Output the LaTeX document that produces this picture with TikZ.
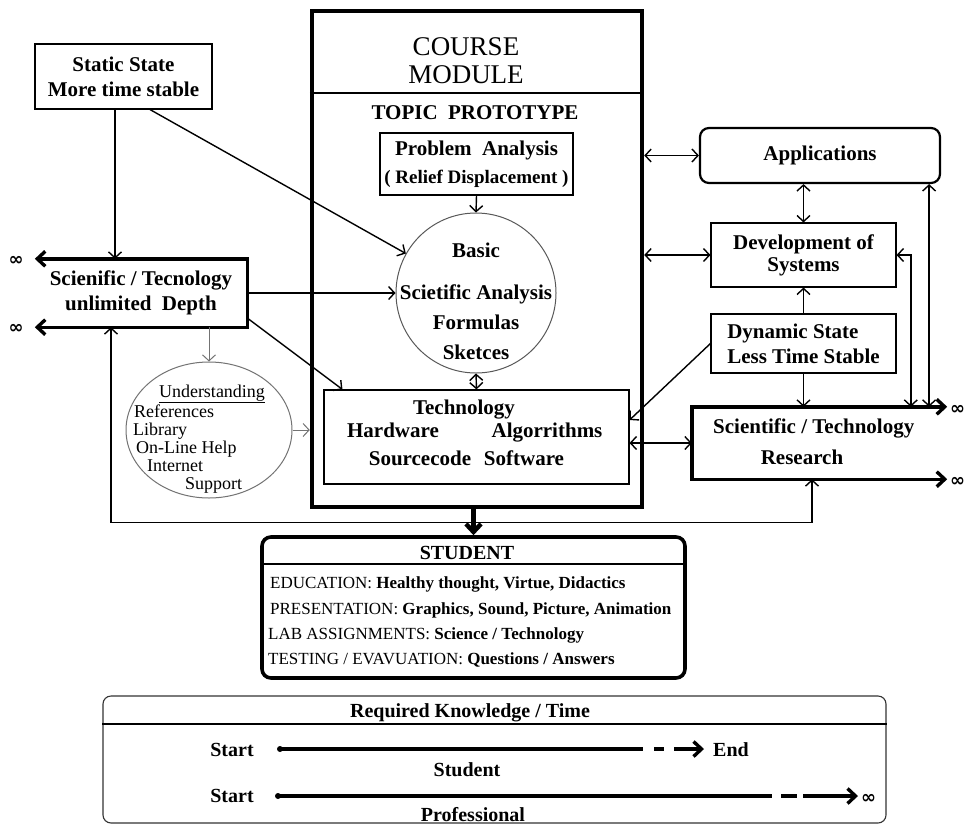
\documentclass[tikz,border=0pt]{standalone}
\usepackage{fontspec}
\setmainfont{Liberation Serif}
\newfontfamily\symfont{DejaVu Sans}
\usetikzlibrary{arrows.meta,calc,shapes.geometric}
\newcommand\myB{\fontsize{21}{25}\selectfont\bfseries}
\newcommand\myBd{\fontsize{21}{22}\selectfont\bfseries}
\newcommand\myBc{\fontsize{21}{30}\selectfont\bfseries}
\newcommand\myBb{\fontsize{20}{24}\selectfont\bfseries}
\newcommand\myR{\fontsize{18}{21}\selectfont}
\newcommand\myS{\fontsize{17}{20}\selectfont}
\newcommand\myC{\fontsize{27}{28}\selectfont}
\newcommand\myInf{{\symfont\bfseries ∞}}
\tikzset{
 vtip/.tip={Straight Barb[length=6pt,width=13pt]},
 btip/.tip={Straight Barb[length=8pt,width=15pt]},
 arr/.style={line width=1.4pt,-vtip},
 darr/.style={line width=1.4pt,vtip-vtip},
 garr/.style={line width=1pt,draw=black!55,-vtip},
 bx/.style 2 args={draw,line width=1.1pt,inner sep=0pt,minimum width=#1,minimum height=#2,align=center},
 tx/.style={inner sep=0pt,text height=14pt,text depth=0pt},
 txr/.style={inner sep=0pt,text height=12pt,text depth=0pt,font=\myR},
 txs/.style={inner sep=0pt,text height=11.5pt,text depth=0pt,font=\myS},
 infsym/.style={inner sep=0pt,font=\fontsize{18}{18}\selectfont,yshift=-3pt},
 thickln/.style={line width=3.4pt},
}
\begin{document}
\begin{tikzpicture}[x=1pt,y=-1pt]
\useasboundingbox (0,0) rectangle (969,825);
\fill[white] (0,0) rectangle (969,825);

% ---------- course module ----------
\node[draw,line width=4.5pt,minimum width=330pt,minimum height=496pt,inner sep=0pt] (mod) at (477,259) {};
\draw[line width=1.4pt] (mod.west |- 0,93) -- (mod.east |- 0,93);
\node[font=\myC,align=center,inner sep=0pt] (cm) at (466,61) {COURSE\\MODULE};
\node[tx,font=\myB] (tp) at (475,112) {TOPIC~~PROTOTYPE};
\node[bx={193pt}{62pt},font=\myB] (pa) at (476.5,164) {Problem~~Analysis\\[3pt]{\fontsize{19}{22}\selectfont ( Relief Displacement )}};
\node[circle,draw=black!65,line width=1pt,minimum size=160pt,inner sep=0pt] (circ) at (476,293) {};
\node[font=\myBc,align=center,inner sep=0pt] (circt) at (476,301) {Basic\\[12pt]Scietific Analysis\\Formulas\\Sketces};
\node[bx={305pt}{94pt}] (tech) at (476.5,437) {};
\node[tx,font=\myB] (t1) at (464,407) {Technology};
\node[tx,font=\myB] (t2) at (393,430) {Hardware};
\node[tx,font=\myB] (t3) at (547,430) {Algorrithms};
\node[tx,font=\myB] (t4) at (420,458) {Sourcecode};
\node[tx,font=\myB] (t5) at (524,458) {Software};

% ---------- left side ----------
\node[bx={177pt}{65pt},font=\myB] (ss) at (123.5,76.5) {Static State\\More time stable};
\node[inner sep=0pt,minimum width=212pt,minimum height=68pt,align=center,font=\myB] (sci) at (141,293) {Scienific / Tecnology\\unlimited~~Depth};
\draw[thickln,btip-btip,line join=miter] (sci.north west) -- (sci.north east) -- (sci.south east) -- (sci.south west);
\node[infsym] (inf1) at (16,258) {\myInf};
\node[infsym] (inf2) at (16,326) {\myInf};

\node[ellipse,draw=black!55,line width=1pt,minimum width=166pt,minimum height=136pt,inner sep=0pt] (und) at (209,430) {};
\node[txr] (u0) at (212,391) {\underline{Understanding}};
\node[txr,anchor=west] (u1) at (134,411) {References};
\node[txr,anchor=west] (u2) at (133,429) {Library};
\node[txr,anchor=west] (u3) at (136,447) {On-Line Help};
\node[txr,anchor=west] (u4) at (147,465) {Internet};
\node[txr,anchor=west] (u5) at (185,483) {Support};

% ---------- right side ----------
\node[draw,line width=2.2pt,rounded corners=9pt,minimum width=240pt,minimum height=55pt,inner sep=0pt,font=\myB] (app) at (820,155.5) {Applications};
\node[bx={185pt}{64pt},font=\myBd] (dev) at (803.5,255) {Development of\\Systems};
\node[bx={185pt}{59pt},font=\myB,align=left] (dyn) at (803.5,343.5) {Dynamic State\\Less Time Stable};
\node[inner sep=0pt,minimum width=255pt,minimum height=72pt] (res) at (819.5,443) {};
\draw[thickln,btip-btip,line join=miter] (res.north east) -- (res.north west) -- (res.south west) -- (res.south east);
\node[tx,font=\myB,anchor=west] (r1) at (713,426) {Scientific / Technology};
\node[tx,font=\myB] (r2) at (802,457) {Research};
\node[infsym,anchor=west] (inf3) at (950,407) {\myInf};
\node[infsym,anchor=west] (inf4) at (950,479) {\myInf};

% ---------- student ----------
\node[draw,line width=3.6pt,rounded corners=9pt,minimum width=423pt,minimum height=141pt,inner sep=0pt] (stu) at (473.5,607.5) {};
\draw[line width=1.6pt] (stu.west |- 0,564) -- (stu.east |- 0,564);
\node[tx,font=\myBb] (s0) at (467,552) {STUDENT};
\node[txs,anchor=west] (s1) at (270,583) {EDUCATION:~\textbf{Healthy thought, Virtue, Didactics}};
\node[txs,anchor=west] (s2) at (270,609) {PRESENTATION:~\textbf{Graphics, Sound, Picture, Animation}};
\node[txs,anchor=west] (s3) at (268,634) {LAB ASSIGNMENTS: \textbf{Science / Technology}};
\node[txs,anchor=west] (s4) at (268,659) {TESTING / EVAVUATION:~\textbf{Questions / Answers}};

% ---------- required knowledge ----------
\node[draw=black!80,line width=1.1pt,rounded corners=8pt,minimum width=783pt,minimum height=127pt,inner sep=0pt] (req) at (494.5,759.5) {};
\draw[line width=1.1pt] (req.west |- 0,724) -- (req.east |- 0,724);
\node[tx,font=\myBb] (q0) at (470,710) {Required Knowledge / Time};
\node[tx,font=\myBb] (st1) at (232,749) {Start};
\node[circle,fill,inner sep=0pt,minimum size=6pt] (d1) at (280,749) {};
\coordinate (a1) at (643,749);
\coordinate (a2) at (654,749);
\coordinate (a3) at (664,749);
\coordinate (a4) at (674,749);
\node[tx,font=\myBb,anchor=west] (end) at (713,749) {End};
\draw[thickln] (d1.center) -- (a1);
\draw[thickln] (a2) -- (a3);
\draw[thickln,-btip] (a4) -- ([xshift=-9pt]end.west |- a4);
\node[tx,font=\myBb] (lbs) at (467,769) {Student};

\node[tx,font=\myBb] (st2) at (232,795) {Start};
\node[circle,fill,inner sep=0pt,minimum size=6pt] (d2) at (278,796) {};
\coordinate (b1) at (772,796);
\coordinate (b2) at (781,796);
\coordinate (b3) at (797,796);
\coordinate (b4) at (803,796);
\node[infsym,anchor=west] (inf5) at (861,796) {\myInf};
\draw[thickln] (d2.center) -- (b1);
\draw[thickln] (b2) -- (b3);
\draw[thickln,-btip] (b4) -- ([xshift=-3pt]inf5.west |- b4);
\node[tx,font=\myBb] (lbp) at (473,814) {Professional};

% ---------- connectors ----------
\draw[arr] ([xshift=-8.5pt]ss.south) -- ([xshift=-8.5pt]ss.south |- sci.north);
\draw[arr] ([xshift=26.5pt]ss.south) -- (circ);
\draw[arr] (sci.east) -- (circ.west);
\draw[arr] ([yshift=-25pt]sci.east) -- ([xshift=19pt]tech.north west);
\draw[garr] (sci.south -| und.north) -- (und.north);
\draw[garr] (und.east) -- (und.east -| mod.west);
\draw[darr] ([xshift=-30pt]sci.south) -- ++(0,195) -| ([xshift=-7.5pt]res.south);
\draw[arr] (pa.south) -- (circ.north);
\draw[darr] (circ.south) -- (tech.north);
\draw[line width=4.5pt,-btip] (mod.south -| stu.north) -- (stu.north);
\draw[darr] (mod.east |- app.west) -- (app.west);
\draw[darr] (dev.north |- app.south) -- (dev.north);
\draw[darr] (mod.east |- dev.west) -- (dev.west);
\draw[arr] (dyn.north) -- (dev.south);
\draw[arr] (dyn.south) -- (dyn.south |- res.north);
\draw[arr] (dyn.west) -- ([yshift=17pt]tech.east);
\draw[darr] (res.west -| tech.east) -- (res.west);
\draw[darr] ([xshift=-12pt]app.south east) -- ([xshift=-12pt]app.south east |- res.north);
\draw[darr] (dev.east) -| ($(res.north west)+(219pt,0)$);
\end{tikzpicture}
\end{document}
